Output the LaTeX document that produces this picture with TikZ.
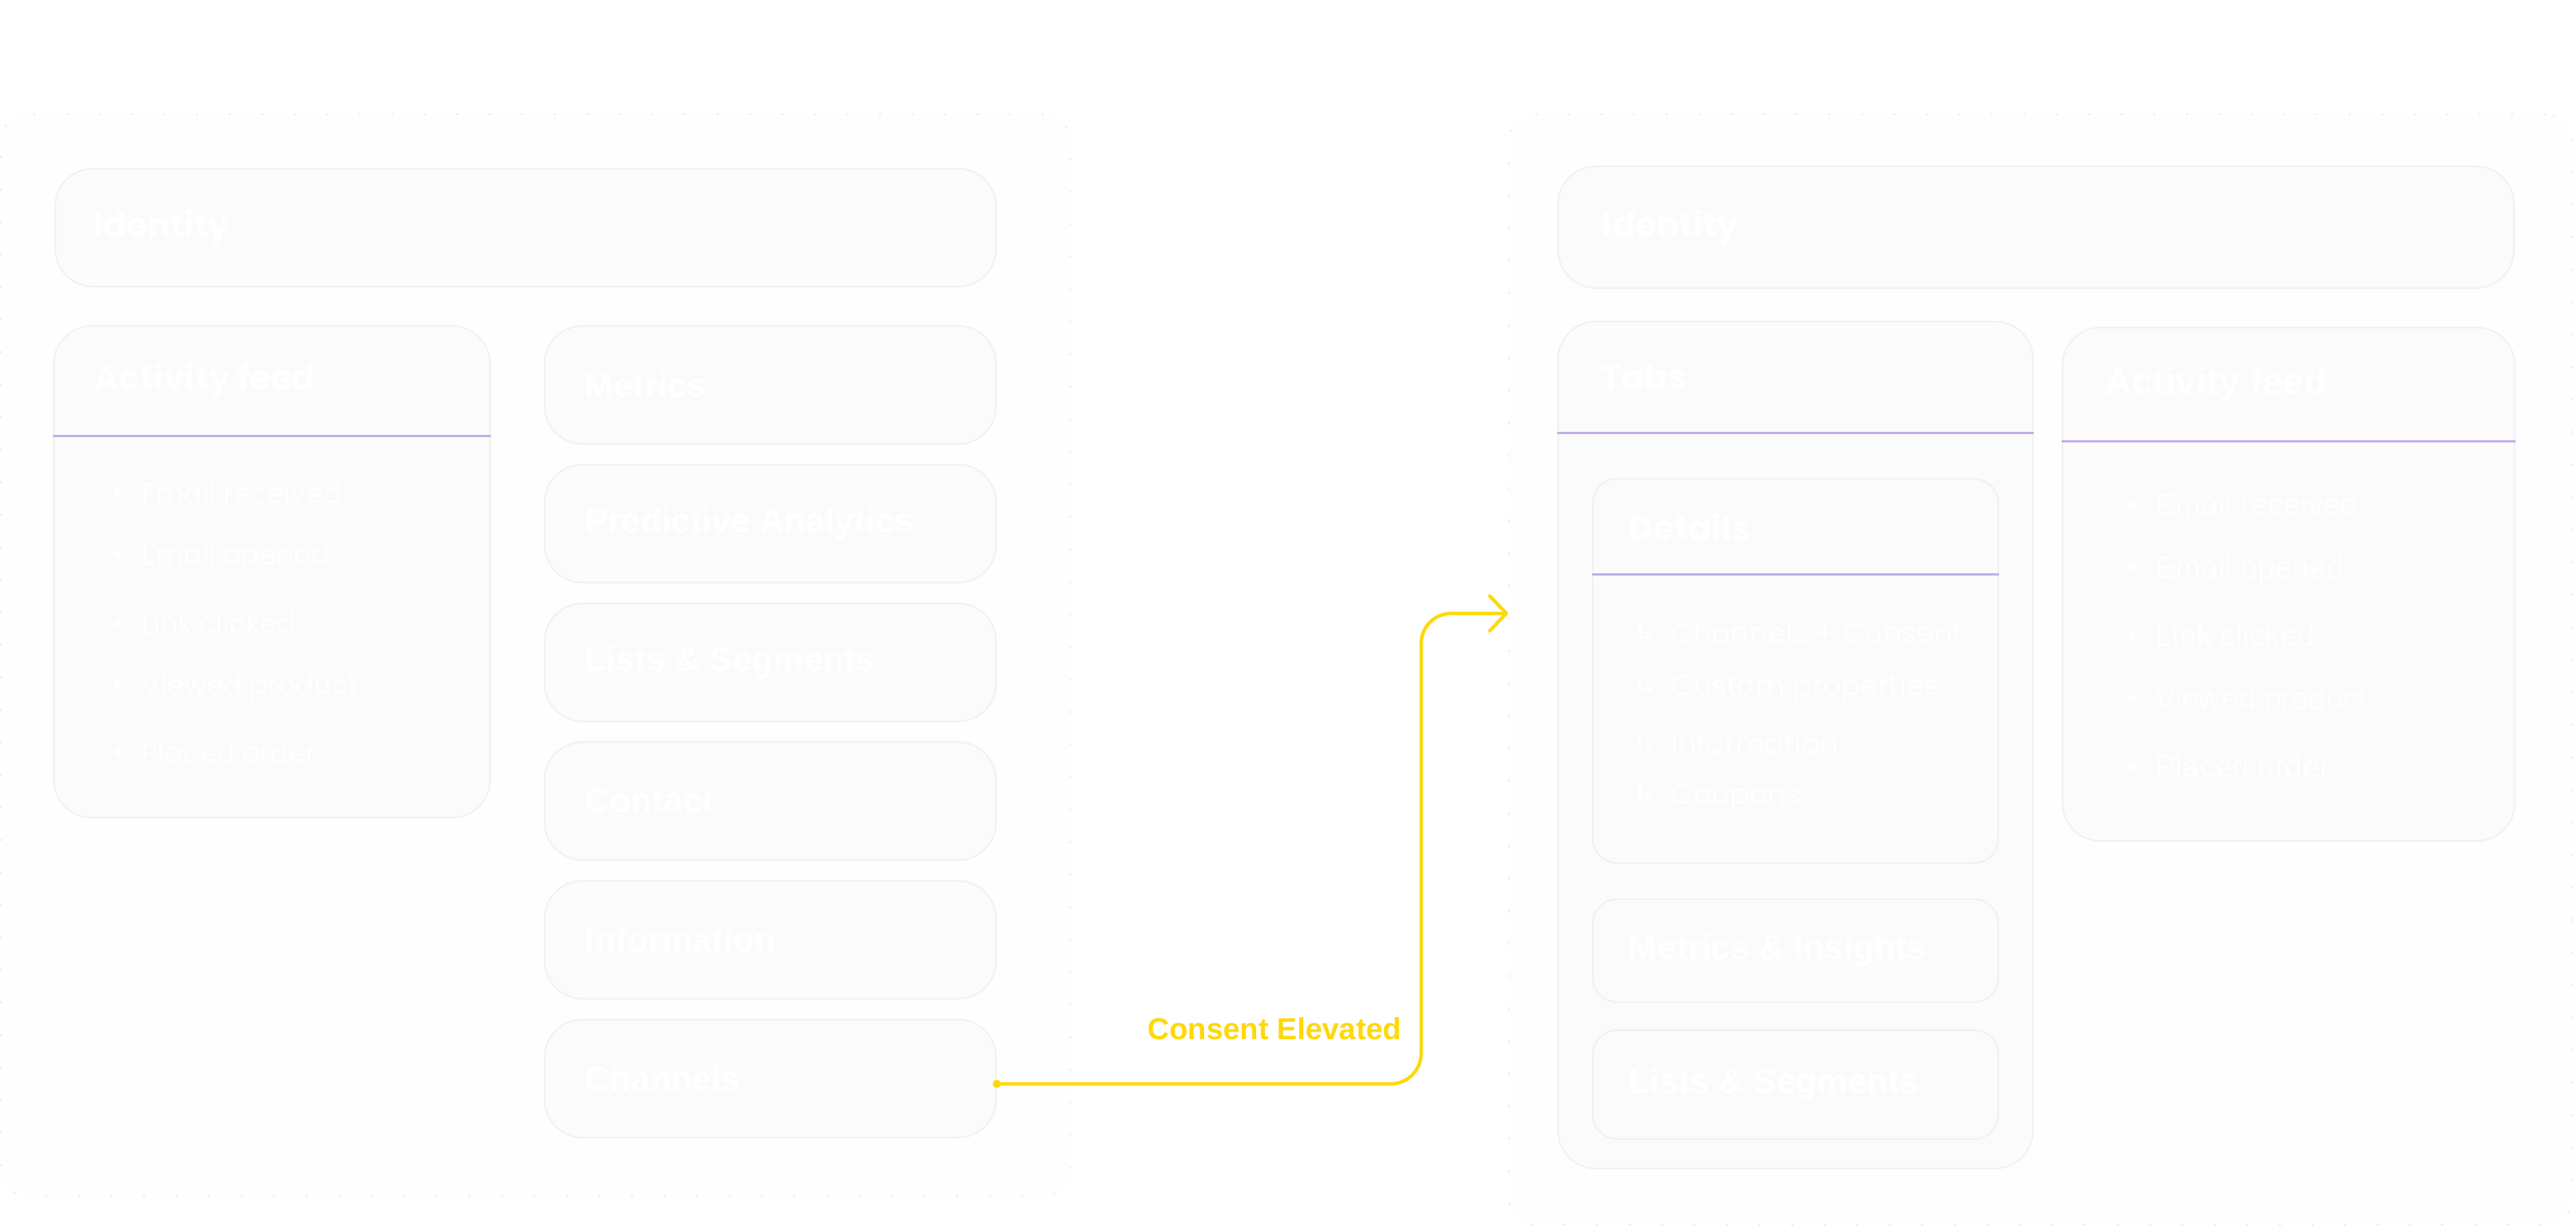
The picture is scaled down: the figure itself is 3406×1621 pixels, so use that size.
\documentclass[tikz,border=0pt]{standalone}
\usepackage{fontspec}
\setmainfont{Liberation Sans}
\newfontfamily\popfont{Poppins}
\newfontfamily\symfont{DejaVu Sans}
\usetikzlibrary{arrows.meta}

\definecolor{panelline}{HTML}{EDEDED}
\definecolor{panelfill}{HTML}{FEFEFE}
\definecolor{cardline}{HTML}{F1F1F1}
\definecolor{cardfill}{HTML}{FBFBFB}
\definecolor{divider}{HTML}{C2ADE6}
\definecolor{consent}{HTML}{FFD808}

\begin{document}
\begin{tikzpicture}[x=0.1mm, y=-0.1mm,
  panel/.style={draw=panelline, fill=panelfill, line width=0.2mm, dash pattern=on 0.3mm off 4mm, rounded corners=3.5mm, inner sep=0pt, anchor=north west},
  card/.style={draw=cardline, fill=cardfill, line width=0.2mm, rounded corners=5mm, inner sep=0pt, anchor=north west},
  smallcard/.style={card, rounded corners=3.2mm},
  divline/.style={draw=divider, line width=0.3mm},
  pagetitle/.style={text=white, font=\fontsize{19}{23}\selectfont, inner sep=0pt},
  heading/.style={text=white, font=\popfont\bfseries\fontsize{12.8}{15}\selectfont, inner sep=0pt, anchor=west},
  newheading/.style={text=white, font=\bfseries\fontsize{14}{17}\selectfont, inner sep=0pt, anchor=west},
  cardtext/.style={text=white, font=\bfseries\fontsize{13}{16}\selectfont, inner sep=0pt, anchor=west},
  feeditem/.style={text=white, font=\popfont\fontsize{10.3}{12}\selectfont, inner sep=0pt, anchor=west},
  newitem/.style={text=white, font=\fontsize{11.6}{14}\selectfont, inner sep=0pt, anchor=west},
  tabitem/.style={text=white, font=\popfont\fontsize{10.8}{13}\selectfont, inner sep=0pt, anchor=west},
  flow/.style={draw=consent, line width=0.45mm, rounded corners=4mm, line cap=round, -{Straight Barb[length=2.2mm, width=4.6mm, line cap=round, line join=round]}},
  flowtext/.style={text=consent, font=\bfseries\fontsize{11.4}{14}\selectfont, inner sep=0pt}]
  \useasboundingbox (0,0) rectangle (3406,1621);

  % page titles
  \node[pagetitle, anchor=base west] (legacytitle) at (13,67) {Legacy Profiles};
  \node[pagetitle, anchor=base west] (newtitle) at (1962,67) {Profiles Redesigned};

  % panels
  \node[panel, minimum width=141.4mm, minimum height=143mm] (legacy) at (0,150) {};
  \node[panel, minimum width=140.6mm, minimum height=146.8mm] (redesign) at (1994,150) {};

  % legacy profile
  \node[card, minimum width=124.4mm, minimum height=15.6mm] (oldid) at (72,222) {};
  \node[heading] at ([xshift=5.1mm]oldid.west) {Identity};

  \node[card, minimum width=57.7mm, minimum height=65mm] (oldfeed) at (70,430) {};
  \draw[divline] (oldfeed.west |- 0,576) -- (oldfeed.east |- 0,576);
  \node[heading] at (124,503) {Activity feed};
  \foreach \txt [count=\i from 0] in {Email received,Email opened,Link clicked,Viewed product,Placed order}
    \node[feeditem] at (145,{652+\i*85.7}) {\makebox[4.2mm][l]{\symfont •}\txt};

  \foreach \name/\txt [count=\i from 0] in {metrics/Metrics,predict/Predictive Analytics,oldlists/Lists \& Segments,contact/Contact,info/Information,channels/Channels}
  {
    \node[card, minimum width=59.7mm, minimum height=15.6mm] (\name) at (719,{430+\i*183.4}) {};
    \node[cardtext] at ([xshift=5.4mm]\name.west) {\txt};
  }

  % redesigned profile
  \node[card, minimum width=126.4mm, minimum height=16.1mm] (newid) at (2059,219) {};
  \node[heading] at ([xshift=5.9mm]newid.west) {Identity};

  \node[card, minimum width=62.8mm, minimum height=112mm] (tabs) at (2059,424) {};
  \draw[divline] (tabs.west |- 0,572) -- (tabs.east |- 0,572);
  \node[heading] at (2117,498) {Tabs};

  \node[smallcard, minimum width=53.6mm, minimum height=50.8mm] (details) at (2105,632) {};
  \draw[divline] (details.west |- 0,759) -- (details.east |- 0,759);
  \node[heading] at (2153,697) {Details};
  \foreach \txt [count=\i from 0] in {Channels + Consent,Custom properties,Information,Coupons}
    \node[tabitem] at (2159,{837+\i*72.5}) {\makebox[5mm][l]{\symfont ↳}\txt};

  \node[smallcard, minimum width=53.6mm, minimum height=13.6mm] (insights) at (2105,1188) {};
  \node[cardtext] at ([xshift=4.8mm]insights.west) {Metrics \& Insights};
  \node[smallcard, minimum width=53.6mm, minimum height=14.4mm] (newlists) at (2105,1361) {};
  \node[cardtext] at ([xshift=4.8mm]newlists.west) {Lists \& Segments};

  \node[card, minimum width=59.8mm, minimum height=67.9mm] (newfeed) at (2726,432) {};
  \draw[divline] (newfeed.west |- 0,583) -- (newfeed.east |- 0,583);
  \node[newheading] at (2783,509) {Activity feed};
  \foreach \txt [count=\i from 0] in {Email received,Email opened,Link clicked,Viewed product,Placed order}
    \node[newitem] at (2812,{667+\i*86.5}) {\makebox[3.7mm][l]{•}\txt};

  % consent connector
  \coordinate (exit) at ([yshift=-0.7mm]channels.east);
  \coordinate (entry) at (redesign.west |- 0,811);
  \coordinate (riser) at (1879,811);
  \fill[consent] (exit) circle (0.55mm);
  \draw[flow] (exit) -| (riser) -- (entry);
  \node[flowtext, anchor=base east] (elevated) at (1854,1374) {Consent Elevated};
\end{tikzpicture}
\end{document}
